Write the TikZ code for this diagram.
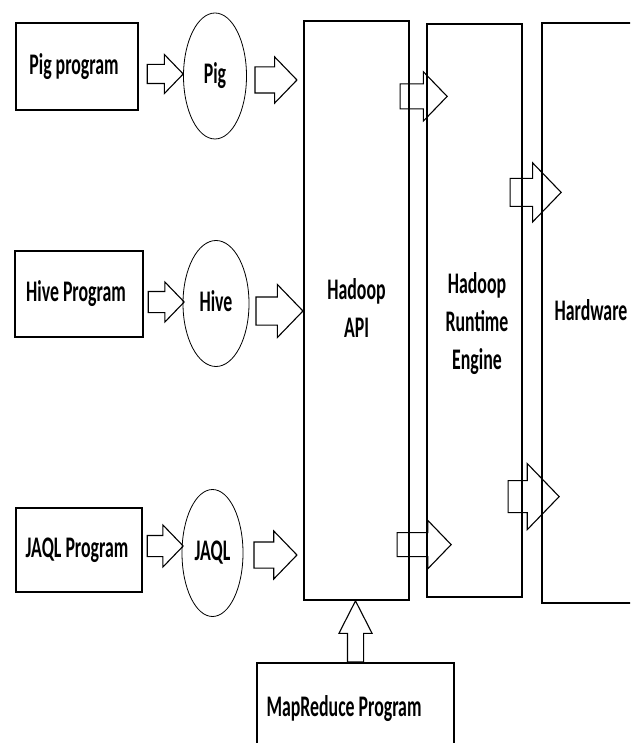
\documentclass[tikz,border=0pt]{standalone}
\usepackage{fontspec}
\setmainfont{Carlito}
\usepackage{graphicx}
\usetikzlibrary{shapes.geometric,shapes.arrows,calc}
\newcommand{\tall}[1]{\scalebox{1}[1.68]{\begin{tabular}{@{}c@{}}#1\end{tabular}}}

\begin{document}
\begin{tikzpicture}[x=1pt,y=-1pt,
  txt/.style={font=\bfseries\fontsize{17.8}{22.8}\selectfont},
  prog/.style={draw,line width=1.3pt,minimum width=126pt,minimum height=86pt,inner sep=0pt,txt},
  lang/.style={draw,ellipse,line width=.8pt,minimum width=64pt,minimum height=126pt,inner sep=0pt,txt},
  layer/.style={draw,line width=1.2pt,inner sep=0pt,txt},
  fat/.style n args={3}{single arrow,draw,line width=1.1pt,inner xsep=0pt,inner ysep=#2,anchor=tail,single arrow tip angle=92,minimum height=#1,single arrow head extend=#3}]
\useasboundingbox (0,0) rectangle (630,743);
\clip (0,0) rectangle (630,743);
% programs and languages
\node[prog,minimum width=122pt,minimum height=87pt] (pigprog) at (77,66.5) {\tall{Pig program}\kern6pt};
\node[prog,minimum width=128pt] (hiveprog) at (79,294) {\tall{Hive Program}\kern6pt};
\node[prog,minimum height=84pt] (jaqlprog) at (79,550) {\tall{JAQL Program}\kern4pt};
\node[lang,minimum width=63pt] (pig) at (215,76) {\tall{Pig}};
\node[lang,minimum width=66pt] (hive) at (216,303.5) {\tall{Hive}};
\node[lang,minimum width=61pt,minimum height=127pt] (jaql) at (212.5,553) {\tall{JAQL}};
% layers
\node[layer,minimum width=105pt,minimum height=579pt] (api) at (356.5,310.5) {\tall{Hadoop\\API}};
\node[layer,minimum width=95pt,minimum height=573pt] (runtime) at (474.5,310.5) {};
\node[txt] (runtimetxt) at ($(runtime.center)+(2.5,13.5)$) {\tall{Hadoop\\Runtime\\Engine}};
\node[layer,minimum width=98pt,minimum height=580pt] (hardware) at (591,313) {\tall{Hardware}};
\node[layer,minimum width=197pt,minimum height=92pt] (mapred) at (355.5,709) {\tall{MapReduce Program}\kern23pt};
% block arrows: length, half shaft, head extend
\node[fat={36}{9}{10}] (pigin) at ($(pigprog.east)+(8,7.5)$) {};
\node[fat={42}{12.5}{10}] (pigout) at ($(pig.east)+(7.5,4)$) {};
\node[fat={36}{10}{9.5}] (hivein) at ($(hiveprog.east)+(4,8)$) {};
\node[fat={47}{13.5}{12.5}] (hiveout) at ($(hive.east)+(6,7.5)$) {};
\node[fat={36}{10}{10.5}] (jaqlin) at ($(jaqlprog.east)+(4,-4)$) {};
\node[fat={43}{12.5}{11}] (jaqlout) at ($(jaql.east)+(10,2)$) {};
\node[fat={47}{12}{12}] (apiup) at ($(api.north east)+(-10,76)$) {};
\node[fat={54}{11.5}{12}] (apidown) at ($(api.south east)+(-13,-56)$) {};
\node[fat={51}{13.5}{15.5}] (rtup) at ($(runtime.north east)+(-13,169)$) {};
\node[fat={51}{15.5}{17}] (rtdown) at ($(runtime.south east)+(-15,-101)$) {};
\node[fat={61}{0}{8.5},inner xsep=7.5pt,shape border rotate=90,single arrow tip angle=54] (mrup) at (mapred.north) {};
\end{tikzpicture}
\end{document}
